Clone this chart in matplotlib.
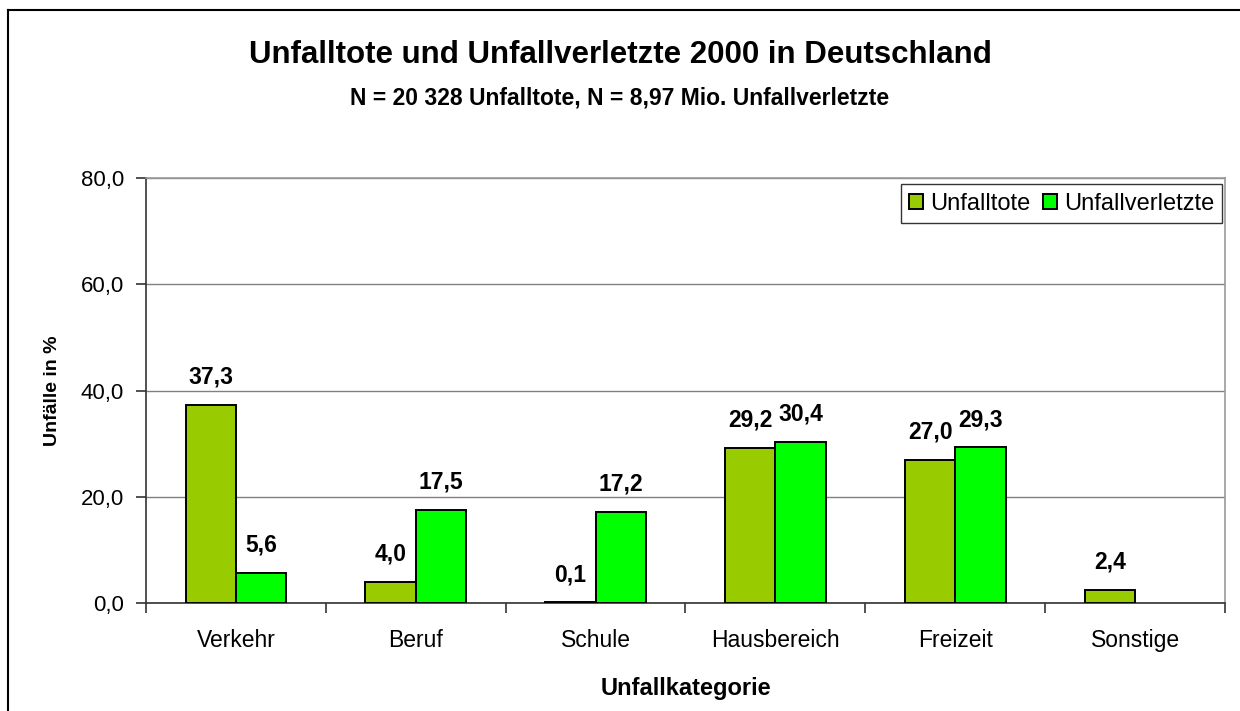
import matplotlib.pyplot as plt
import numpy as np

plt.rcParams['font.family'] = ['Liberation Sans', 'DejaVu Sans']

categories = ['Verkehr', 'Beruf', 'Schule', 'Hausbereich', 'Freizeit', 'Sonstige']
unfalltote = [37.3, 4.0, 0.1, 29.2, 27.0, 2.4]
unfallverletzte = [5.6, 17.5, 17.2, 30.4, 29.3, np.nan]

OLIVE = '#99CC00'
GREEN = '#00FF00'
GRID = '#808080'

fig = plt.figure(figsize=(12.4, 7.11), dpi=100, facecolor='white')
ax = fig.add_axes([146/1240, 1 - 603/711, (1225-146)/1240, (603-178)/711])

x = np.arange(len(categories)) + 0.5
w = 0.28
b1 = ax.bar(x - w/2, unfalltote, w, color=OLIVE, edgecolor='black', linewidth=1.4, label='Unfalltote', zorder=3)
b2 = ax.bar(x + w/2, unfallverletzte, w, color=GREEN, edgecolor='black', linewidth=1.4, label='Unfallverletzte', zorder=3)

def fmt(v):
    return f'{v:.1f}'.replace('.', ',')

for bars, vals in [(b1, unfalltote), (b2, unfallverletzte)]:
    for rect, v in zip(bars, vals):
        if np.isnan(v):
            continue
        ax.annotate(fmt(v), (rect.get_x() + rect.get_width()/2, v),
                    xytext=(0, 20), textcoords='offset points',
                    ha='center', va='center', fontsize=16.5, fontweight='bold')

ax.set_xlim(0, len(categories))
ax.set_ylim(0, 80)
ax.set_yticks([0, 20, 40, 60, 80])
ax.set_yticklabels([fmt(t) for t in [0, 20, 40, 60, 80]], fontsize=16)
ax.set_xticks(np.arange(len(categories) + 1))
ax.set_xticklabels([])
ax.set_xticks(x, minor=True)
ax.set_xticklabels(categories, minor=True, fontsize=16.5)
ax.tick_params(axis='x', which='minor', length=0, pad=19)
ax.tick_params(axis='x', which='major', length=7, width=1.2, direction='out', color='#333333')
ax.tick_params(axis='y', length=7, width=1.2, direction='out', color='#333333', pad=9)

ax.grid(axis='y', color=GRID, linewidth=1.0, zorder=0)
ax.set_axisbelow(True)
ax.spines['left'].set_color('#333333')
ax.spines['bottom'].set_color('#333333')
ax.spines['left'].set_linewidth(1.2)
ax.spines['bottom'].set_linewidth(1.2)
ax.spines['top'].set_color('#999999')
ax.spines['right'].set_color('#999999')
ax.spines['top'].set_linewidth(1.2)
ax.spines['right'].set_linewidth(1.2)

ax.set_xlabel('Unfallkategorie', fontsize=17, fontweight='bold', labelpad=18)
ax.set_ylabel('Unfälle in %', fontsize=14, fontweight='bold', labelpad=14)

fig.text(0.5, 1 - 55/711, 'Unfalltote und Unfallverletzte 2000 in Deutschland',
         ha='center', va='center', fontsize=22.5, fontweight='bold')
fig.text(0.5, 1 - 98/711, 'N = 20 328 Unfalltote, N = 8,97 Mio. Unfallverletzte',
         ha='center', va='center', fontsize=16.5, fontweight='bold')

leg = ax.legend(loc='upper right', bbox_to_anchor=(0.9975, 0.985), ncol=2, fontsize=17,
                frameon=True, fancybox=False, edgecolor='black', handlelength=0.6,
                handleheight=0.6, handletextpad=0.3, columnspacing=0.5, borderpad=0.35,
                borderaxespad=0)
leg.get_frame().set_linewidth(1.0)

# outer frame (left and top edges only visible)
fig.add_artist(plt.Line2D([8/1240, 8/1240], [0, 1 - 10/711], transform=fig.transFigure, color='black', linewidth=1.5))
fig.add_artist(plt.Line2D([8/1240, 1], [1 - 10/711, 1 - 10/711], transform=fig.transFigure, color='black', linewidth=1.5))

fig.savefig('out.png', dpi=100, facecolor='white')
